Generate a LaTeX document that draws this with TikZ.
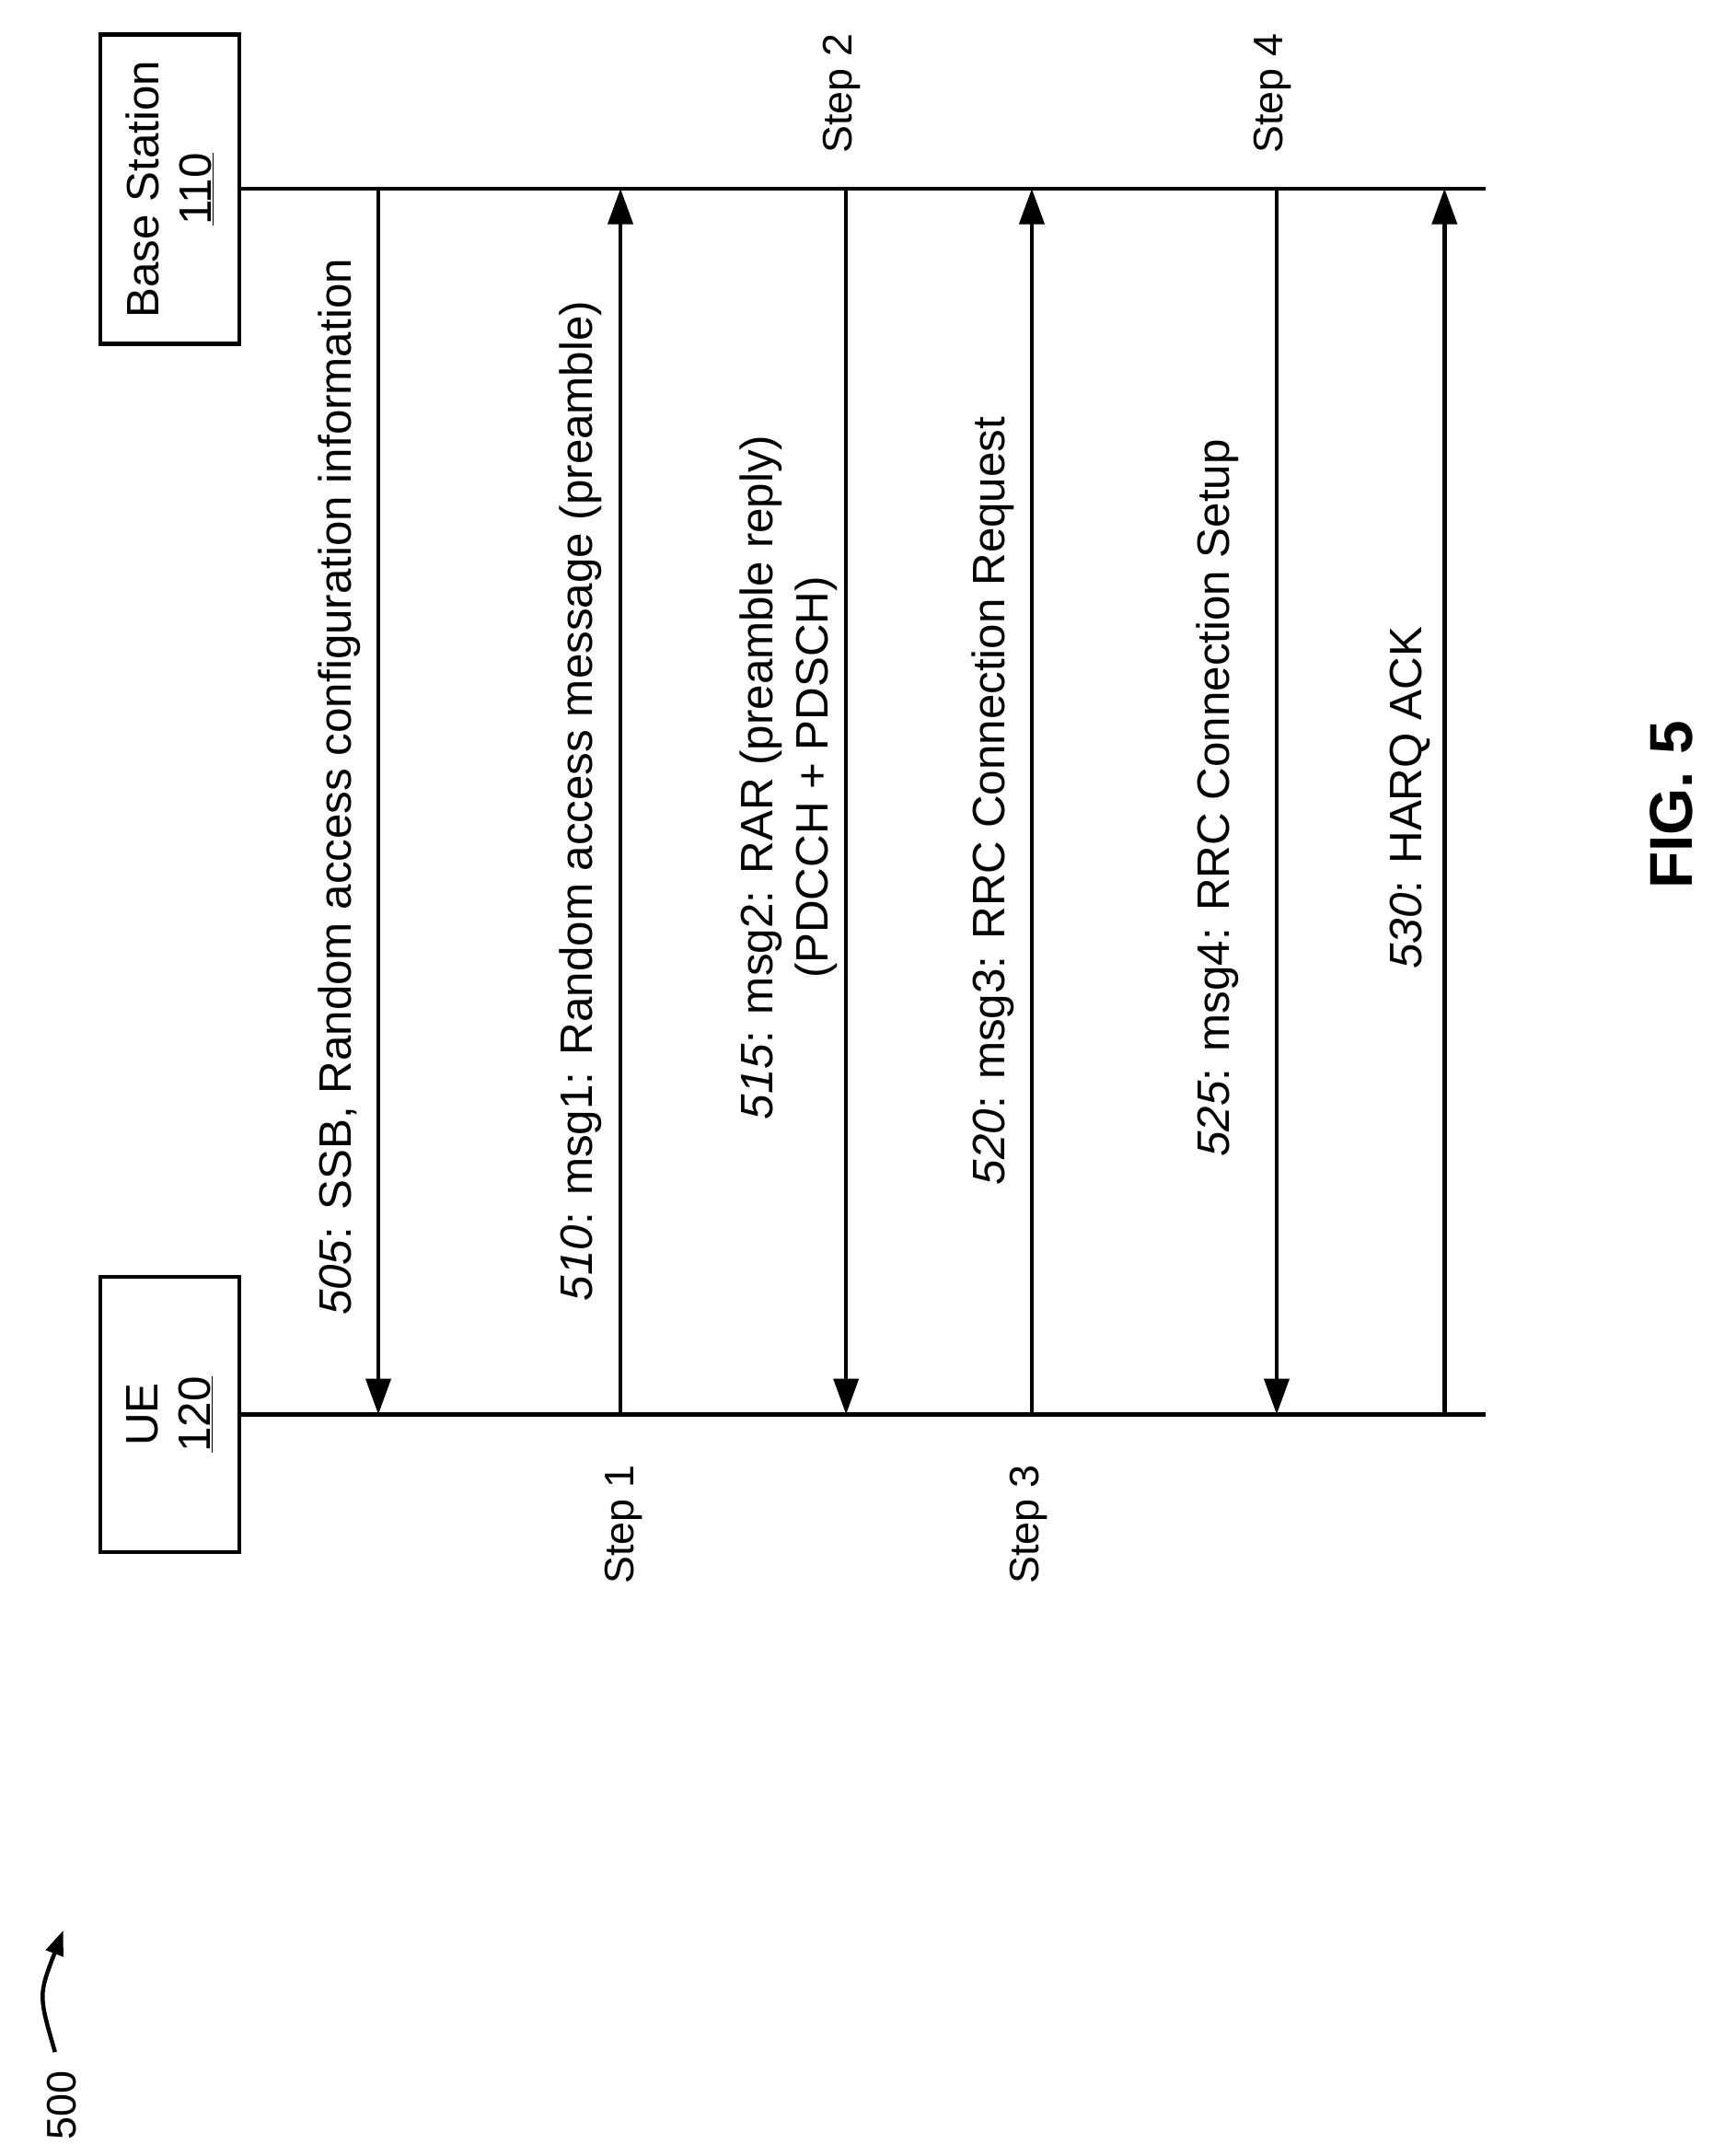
\documentclass[tikz,border=0pt]{standalone}
\usepackage{fontspec}
\setmainfont{Liberation Sans}
\usetikzlibrary{arrows.meta}
\tikzset{
  entity/.style={draw, line width=3pt, minimum width=225pt, minimum height=101pt, rotate=90, font=\fontsize{33}{38}\selectfont, align=center},
  lifeline/.style={line width=3pt},
  msg/.style={line width=3pt, -{Triangle[length=26pt,width=18pt]}},
  msglabel/.style={rotate=90, font=\fontsize{33}{40}\selectfont, align=center},
  steplabel/.style={rotate=90, font=\fontsize{30}{34}\selectfont}
}
\begin{document}
\begin{tikzpicture}[x=1pt,y=-1pt]
\useasboundingbox (0,0) rectangle (1245,1567);
% entities
\node[entity] (bs) at (123.5,137.5) {Base Station\\\underline{110}};
\node[entity, minimum width=200pt] (ue) at (123.5,1028) {UE\\\underline{120}};
% lifelines
\coordinate (bsend) at (1080,137);
\coordinate (ueend) at (1080,1028);
\draw[lifeline] (bs.south |- bsend) -- (bsend);
\draw[lifeline] (ue.south |- ueend) -- (ueend);
% messages
\foreach \x/\dir in {275/d,451/u,615/d,750/u,928/d,1050/u}{
  \coordinate (top\x) at (\x,137);
  \coordinate (bot\x) at (\x,1028);
  \if\dir d
    \draw[msg] (top\x) -- (bot\x);
  \else
    \draw[msg] (bot\x) -- (top\x);
  \fi
}
\node[msglabel] (m505) at (247,572) {\textit{505}: SSB, Random access configuration information};
\node[msglabel] (m510) at (422,582) {\textit{510}: msg1: Random access message (preamble)};
\node[msglabel] (m515) at (573,565) {\textit{515}: msg2: RAR (preamble reply)\\(PDCCH + PDSCH)};
\node[msglabel] (m520) at (722,582) {\textit{520}: msg3: RRC Connection Request};
\node[msglabel] (m525) at (885,580) {\textit{525}: msg4: RRC Connection Setup};
\node[msglabel] (m530) at (1025,580) {\textit{530}: HARQ ACK};
% steps
\node[steplabel] (s1) at (453,1108) {Step 1};
\node[steplabel] (s2) at (612,68) {Step 2};
\node[steplabel] (s3) at (748,1108) {Step 3};
\node[steplabel] (s4) at (925,68) {Step 4};
% figure caption
\node[rotate=90, font=\fontsize{44}{50}\selectfont\bfseries] (fig) at (1215,585) {FIG. 5};
\node[steplabel] (ref) at (45,1530) {500};
\coordinate (refarr) at (46,1403);
\draw[line width=3pt, -{Triangle[length=18pt,width=13pt]}] (ref.east) ++(-5,-10) .. controls (28,1450) .. (refarr);
\end{tikzpicture}
\end{document}
